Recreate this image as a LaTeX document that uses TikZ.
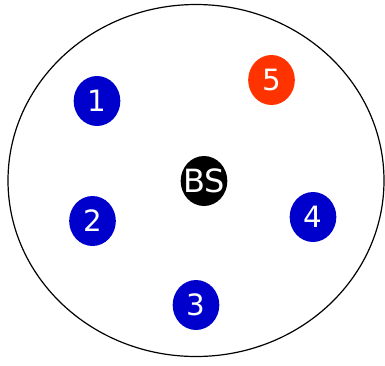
\documentclass[tikz,border=0pt]{standalone}
\usepackage{fontspec}
\setmainfont{DejaVu Sans}
\definecolor{ueBlue}{HTML}{0000CC}
\definecolor{ueRed}{HTML}{FF3300}
\usepackage{tikz}
\usetikzlibrary{shapes.geometric}

\begin{document}
\begin{tikzpicture}[x=0.75pt, y=-0.75pt,
    ue/.style={ellipse, fill=ueBlue, text=white, minimum width=35pt, minimum height=37.5pt, inner sep=0pt, font=\fontsize{22}{22}\selectfont},
    bs/.style={ellipse, fill=black, text=white, minimum width=35pt, minimum height=37.5pt, inner sep=0pt, font=\fontsize{24}{24}\selectfont}]
        \useasboundingbox (0,0) rectangle (385,365);
        % Cell boundary
        \draw[line width=0.9pt] (196,180.5) ellipse [x radius=188, y radius=176];
        % Base station
        \node[bs] (bs) at (204,181) {\makebox[0pt]{BS}};
        % Users
        \node[ue] (u1) at (97,101) {1};
        \node[ue] (u2) at (92.5,221) {2};
        \node[ue] (u3) at (196,305) {3};
        \node[ue] (u4) at (313,217) {4};
        \node[ue, fill=ueRed] (u5) at (271.5,80) {5};
      \end{tikzpicture}
\end{document}
